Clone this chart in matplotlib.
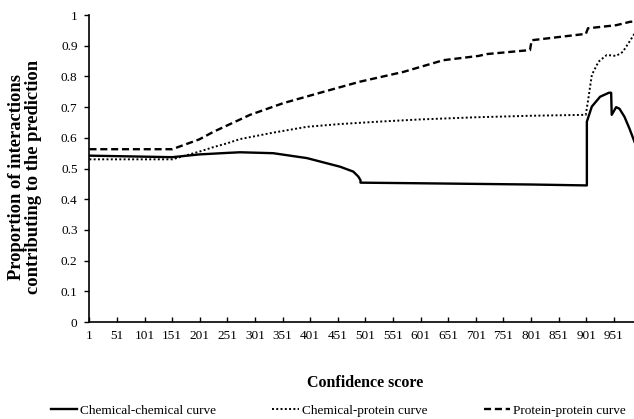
import matplotlib
matplotlib.use('Agg')
import matplotlib.pyplot as plt

# 데이터
cc_score = [1, 151, 200, 251, 274, 334, 395, 455, 479, 488, 492, 492, 600, 700, 800,
            902, 902, 911, 926, 942, 946, 947, 955, 961, 970, 979, 987, 992]
cc_value = [0.542, 0.537, 0.546, 0.551, 0.553, 0.550, 0.534, 0.506, 0.490, 0.474, 0.462, 0.454,
            0.452, 0.450, 0.448, 0.445, 0.653, 0.702, 0.734, 0.747, 0.747, 0.675, 0.700,
            0.695, 0.669, 0.631, 0.593, 0.570]

cp_score = [1, 151, 200, 226, 250, 274, 334, 395, 455, 527, 600, 700, 800, 900,
            904, 911, 923, 938, 955, 967, 979, 992]
cp_value = [0.530, 0.530, 0.555, 0.570, 0.582, 0.596, 0.617, 0.636, 0.645, 0.653, 0.660,
            0.667, 0.672, 0.675, 0.720, 0.805, 0.848, 0.870, 0.867, 0.880, 0.913, 0.950]

pp_score = [1, 151, 200, 226, 292, 352, 419, 491, 570, 642, 706, 721, 799, 802, 896,
            900, 904, 955, 980, 992]
pp_value = [0.563, 0.563, 0.595, 0.620, 0.675, 0.713, 0.747, 0.783, 0.815, 0.853, 0.867,
            0.873, 0.886, 0.918, 0.938, 0.938, 0.957, 0.967, 0.978, 0.980]

x_ticks = list(range(1, 1001, 50))
y_ticks = [0, 0.1, 0.2, 0.3, 0.4, 0.5, 0.6, 0.7, 0.8, 0.9, 1]
y_tick_labels = ['0', '0.1', '0.2', '0.3', '0.4', '0.5', '0.6', '0.7', '0.8', '0.9', '1']

# 폰트 설정
plt.rcParams['font.family'] = ['Liberation Serif', 'DejaVu Serif']

fig = plt.figure(figsize=(6.34, 4.19), dpi=100)
ax = fig.add_axes([0.141, 0.2315, 0.870, 0.7325])

ax.plot(cc_score, cc_value, color='black', lw=1.7, label='Chemical-chemical curve')
ax.plot(cp_score, cp_value, color='black', lw=1.4, dashes=(1, 1.2), label='Chemical-protein curve')
ax.plot(pp_score, pp_value, color='black', lw=1.7, dashes=(3, 1.6), label='Protein-protein curve')

ax.set_xlim(1, 1000)
ax.set_ylim(0, 1)
ax.set_xticks(x_ticks)
ax.set_yticks(y_ticks)
ax.set_yticklabels(y_tick_labels)

for s in ['top', 'right']:
    ax.spines[s].set_visible(False)
for s in ['left', 'bottom']:
    ax.spines[s].set_linewidth(1.2)
ax.tick_params(axis='x', direction='in', length=3.5, width=1, pad=6, labelsize=9.5)
ax.tick_params(axis='y', direction='out', length=3.5, width=1, pad=5, labelsize=9.5)

fig.text(0.040, 0.578, 'Proportion of interactions\ncontributing to the prediction',
         rotation=90, ha='center', va='center', multialignment='center',
         fontsize=13.3, fontweight='bold', linespacing=1.0)
fig.text(0.576, 0.086, 'Confidence score', ha='center', va='center',
         fontsize=11.5, fontweight='bold')

fig.legend(loc='center left', bbox_to_anchor=(0.08, 0.02), ncol=3, frameon=False,
           fontsize=9.5, handlelength=2.0, handletextpad=0.2, columnspacing=4.3,
           borderpad=0, borderaxespad=0)

fig.savefig('out.png', dpi=100)
